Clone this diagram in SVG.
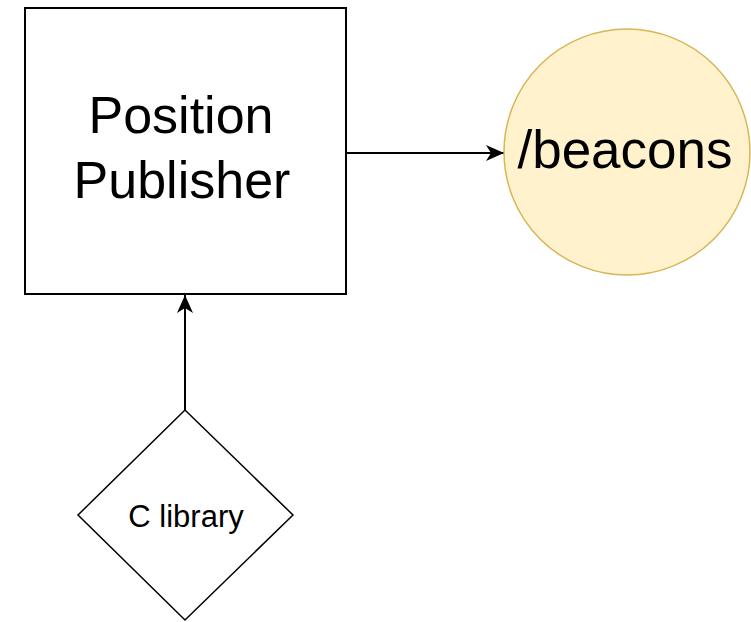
<svg xmlns="http://www.w3.org/2000/svg" width="751" height="622" viewBox="0 0 751 622">
<defs>
<style>
.lbl{font-family:"Liberation Sans",Arial,sans-serif;fill:#000;text-anchor:middle}
.edge{stroke:#000;stroke-width:2;fill:none}
</style>
<marker id="arr" viewBox="0 0 18 16" refX="18" refY="8" markerWidth="18" markerHeight="16" markerUnits="userSpaceOnUse" orient="auto">
<path d="M0,0 L18,8 L0,16 L5,8 Z" fill="#000"/>
</marker>
</defs>
<rect width="751" height="622" fill="#fff"/>
<g id="connectors">
<line class="edge" x1="346" y1="153" x2="504" y2="153" marker-end="url(#arr)"/>
<line class="edge" x1="185" y1="410" x2="185" y2="295" marker-end="url(#arr)"/>
</g>
<g id="position-publisher">
<rect x="25" y="8" width="321" height="286" fill="#fff" stroke="#000" stroke-width="2"/>
<text class="lbl" x="181" y="133" font-size="52">Position</text>
<text class="lbl" x="182" y="198" font-size="52">Publisher</text>
</g>
<g id="beacons">
<circle cx="627" cy="152" r="123" fill="#fff2cc" stroke="#d6b656" stroke-width="1.5"/>
<text class="lbl" x="625" y="168" font-size="53">/beacons</text>
</g>
<g id="c-library">
<polygon points="185,410 293,515 185,620 78,515" fill="#fff" stroke="#000" stroke-width="1.5"/>
<text class="lbl" x="186" y="527" font-size="31">C library</text>
</g>
</svg>
